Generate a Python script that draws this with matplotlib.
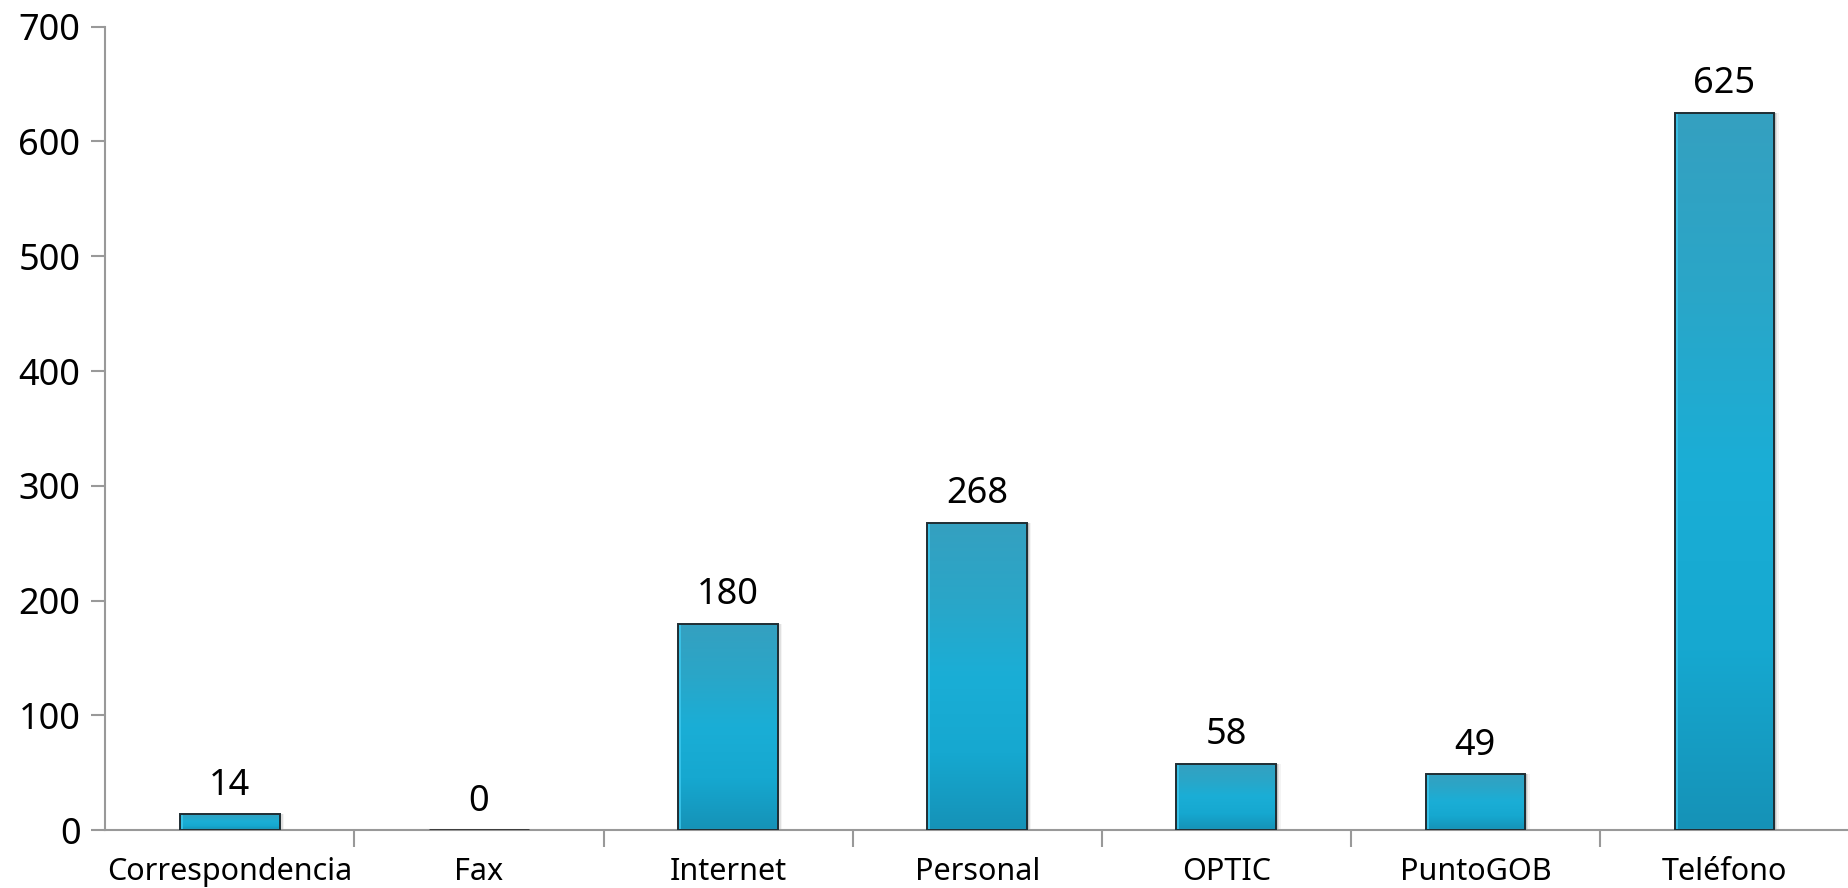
import numpy as np
import matplotlib.pyplot as plt
from matplotlib.colors import LinearSegmentedColormap
from matplotlib.patches import Rectangle

categories = ["Correspondencia", "Fax", "Internet", "Personal", "OPTIC", "PuntoGOB", "Teléfono"]
values = [14, 0, 180, 268, 58, 49, 625]
yticks = [0, 100, 200, 300, 400, 500, 600, 700]

plt.rcParams['font.family'] = ['Noto Sans', 'DejaVu Sans']

fig = plt.figure(figsize=(18.49, 8.88), dpi=100)
ax = fig.add_axes([0.057, 0.065, 0.943, 0.905])

x = np.arange(len(categories))
width = 0.4
ax.set_xlim(-0.5, len(categories) - 0.5)
ax.set_ylim(0, 700)

# vertical gradient used to fill each bar (top -> bottom)
grad_cmap = LinearSegmentedColormap.from_list(
    "bar", ["#1592b7", "#16a8d0", "#1aaed6", "#2aa6c8", "#35a0c0"])
grad = np.linspace(0, 1, 256).reshape(-1, 1)

for xi, v in zip(x, values):
    left = xi - width / 2
    if v == 0:
        ax.plot([left, left + width], [0, 0], color="#333333", lw=2, zorder=3,
                solid_capstyle="butt")
        continue
    # soft shadow on the right side
    for k, a in enumerate([0.25, 0.15, 0.08]):
        sh = Rectangle((left + width, 0), 0.006 * (k + 1), v, facecolor="#777777",
                       edgecolor="none", alpha=a, zorder=1)
        ax.add_patch(sh)
    rect = Rectangle((left, 0), width, v, facecolor="none", edgecolor="#1f2d33",
                     lw=1.4, zorder=4)
    ax.add_patch(rect)
    im = ax.imshow(grad, cmap=grad_cmap, aspect="auto", origin="lower",
                   extent=(left, left + width, 0, v), zorder=2)
    im.set_clip_path(rect)
    # lighter strip on the left edge
    ax.add_patch(Rectangle((left, 0), 0.012, v, facecolor="#3cc8ee",
                           edgecolor="none", alpha=0.8, zorder=3))
    ax.text(xi, v + 9, str(v), ha="center", va="bottom", fontsize=26)

ax.text(x[1], 9, "0", ha="center", va="bottom", fontsize=26)

for s in ["top", "right"]:
    ax.spines[s].set_visible(False)
for s in ["left", "bottom"]:
    ax.spines[s].set_color("#999999")
    ax.spines[s].set_linewidth(1.5)

ax.set_yticks(yticks)
ax.set_yticklabels([str(t) for t in yticks], fontsize=26)
ax.tick_params(axis="y", length=10, width=1.5, color="#999999", pad=8)

ax.set_xticks(x)
ax.set_xticklabels(categories, fontsize=22)
ax.tick_params(axis="x", length=0, pad=19)
ax.set_xticks(np.arange(-0.5, len(categories) - 0.5, 1)[1:], minor=True)
ax.tick_params(axis="x", which="minor", length=12, width=1.5, color="#999999")

fig.savefig("out.png", dpi=100, facecolor="white")
